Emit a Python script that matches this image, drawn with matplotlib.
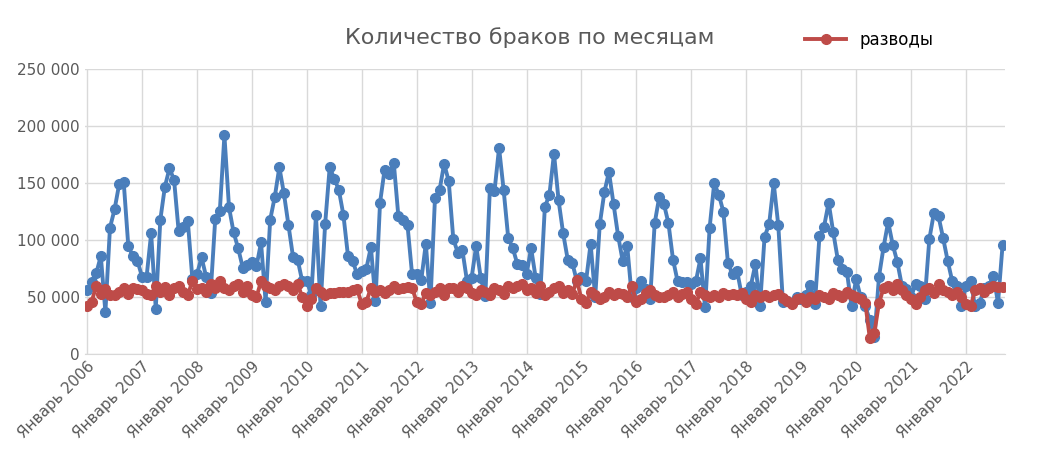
import matplotlib
matplotlib.use("Agg")
import matplotlib.pyplot as plt
from matplotlib.ticker import FuncFormatter

years = list(range(2006, 2023))
marriages = [
    56,63,71,86,37,111,127,149,151,95,86,82,
    68,68,106,40,118,147,163,153,108,112,117,66,
    70,85,68,54,119,126,192,129,107,93,76,78,
    81,77,98,46,118,138,164,141,113,85,83,64,
    64,52,122,42,114,164,154,144,122,86,82,70,
    73,75,94,47,133,162,158,168,121,118,113,70,
    70,65,97,45,137,144,167,152,101,89,91,64,
    67,95,67,51,146,143,181,144,102,93,79,78,
    70,93,67,53,129,140,176,135,106,83,80,64,
    68,64,97,50,114,142,160,132,104,82,95,50,
    58,64,57,48,115,138,132,115,83,64,63,63,
    62,64,84,41,111,150,140,125,80,70,73,52,
    55,60,79,42,103,114,150,113,46,47,45,50,
    48,52,61,44,104,112,133,107,83,75,72,42,
    66,50,42,30,15,68,94,116,96,81,60,57,
    50,62,60,48,101,124,121,102,82,64,60,42,
    60,64,42,45,58,60,69,45,96,
]
divorces = [
    42,46,60,53,57,52,52,55,58,53,58,57,
    56,53,52,60,55,59,52,58,60,55,52,64,
    57,58,55,62,58,64,58,56,60,62,55,60,
    52,50,64,60,58,56,60,62,60,56,62,50,
    42,48,58,55,52,54,54,55,55,55,56,57,
    44,46,58,55,56,54,56,60,57,58,59,58,
    46,44,54,52,55,58,52,58,58,55,60,58,
    54,52,56,55,52,58,56,53,60,58,60,62,
    56,58,54,60,52,55,58,60,54,56,53,65,
    48,45,55,52,48,50,55,52,54,53,50,60,
    46,48,54,56,52,50,50,52,55,50,53,55,
    48,44,55,52,50,52,50,54,52,53,52,54,
    48,46,52,50,52,50,52,53,49,47,44,48,
    49,46,50,48,52,50,48,54,52,50,55,52,
    50,48,45,14,19,45,58,60,56,62,56,52,
    48,44,50,56,58,54,62,56,55,52,55,50,
    44,42,56,58,55,58,60,59,59,
]
tick_labels = [f"Январь {y}" for y in years]

x = list(range(len(marriages)))
fig = plt.figure(figsize=(10.6, 4.71), dpi=100)
ax = fig.add_axes([0.08, 0.248, 0.868, 0.605])
ax.plot(x, [v * 1000 for v in marriages], color="#4a7ebb", lw=2.8, marker="o", ms=7, zorder=2)
ax.plot(x, [v * 1000 for v in divorces], color="#be4b48", lw=2.8, marker="o", ms=7, zorder=3, label="разводы")
ax.set_ylim(0, 250000)
ax.set_yticks(range(0, 250001, 50000))
ax.yaxis.set_major_formatter(FuncFormatter(lambda v, p: "0" if v == 0 else f"{int(v):,}".replace(",", " ")))
ax.set_xticks(range(0, len(marriages), 12))
ax.set_xticklabels(tick_labels, rotation=45, ha="right", rotation_mode="anchor")
ax.set_xlim(-0.5, len(marriages) - 0.5)
ax.grid(True, color="#d9d9d9", lw=1)
ax.set_axisbelow(True)
for s in ["top", "right", "left"]:
    ax.spines[s].set_visible(False)
ax.spines["bottom"].set_color("#d9d9d9")
ax.tick_params(length=0, labelsize=11, colors="#595959")
fig.text(0.5, 0.92, "Количество браков по месяцам", ha="center", va="center", fontsize=16, color="#595959")
fig.legend(loc="center", bbox_to_anchor=(0.82, 0.915), frameon=False, fontsize=12, handlelength=2.5)
fig.savefig("out.png", dpi=100)
